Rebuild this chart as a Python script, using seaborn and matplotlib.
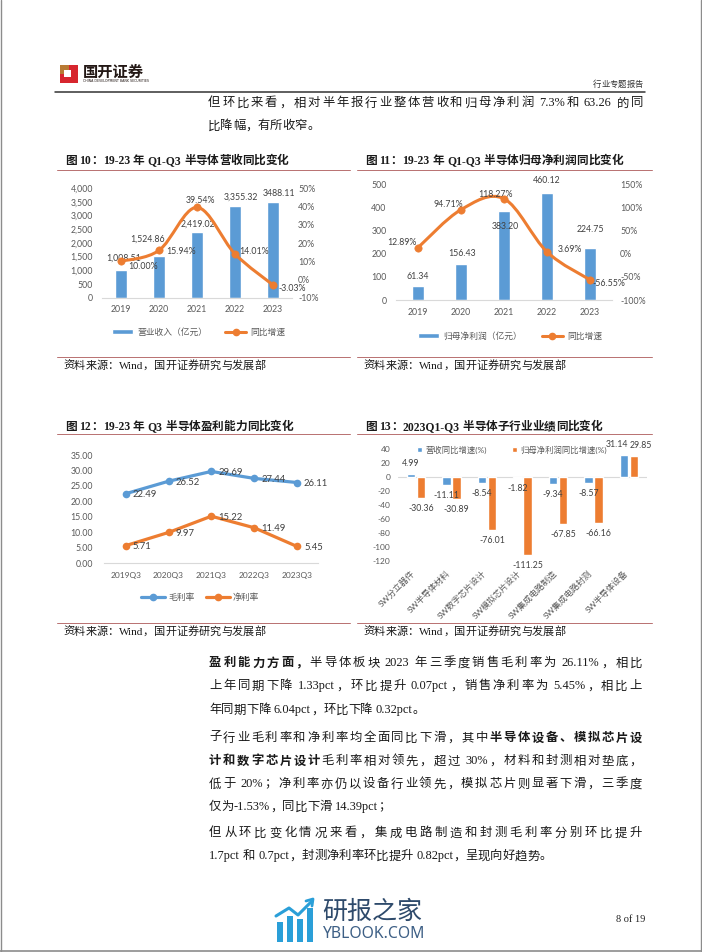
import numpy as np
import pandas as pd
import matplotlib
matplotlib.use("Agg")
import matplotlib.pyplot as plt
import seaborn as sns
from matplotlib.path import Path
from matplotlib.patches import PathPatch, Rectangle
from matplotlib.lines import Line2D

# ---------------- data ----------------
years = ['2019', '2020', '2021', '2022', '2023']
revenue = [1008.51, 1524.86, 2419.02, 3355.32, 3488.11]
revenue_labels = ['1,008.51', '1,524.86', '2,419.02', '3,355.32', '3488.11']
revenue_yoy = [10.00, 15.94, 39.54, 14.01, -3.03]

profit = [61.34, 156.43, 383.20, 460.12, 224.75]
profit_yoy = [12.89, 94.71, 118.27, 3.69, -56.55]

quarters = ['2019Q3', '2020Q3', '2021Q3', '2022Q3', '2023Q3']
gross_margin = [22.49, 26.52, 29.69, 27.44, 26.11]
net_margin = [5.71, 9.97, 15.22, 11.49, 5.45]

sub_industries = ['SW分立器件', 'SW半导体材料', 'SW数字芯片设计', 'SW模拟芯片设计',
                  'SW集成电路制造', 'SW集成电路封测', 'SW半导体设备']
sub_rev_yoy = [4.99, -11.11, -8.54, -1.82, -9.34, -8.57, 31.14]
sub_profit_yoy = [-30.36, -30.89, -76.01, -111.25, -67.85, -66.16, 29.85]

# ---------------- style ----------------
sns.set_theme(style='white')
CJK = 'Noto Sans CJK SC'
plt.rcParams['font.family'] = ['Lato', CJK]
plt.rcParams['axes.unicode_minus'] = False
SERIF = ['Liberation Serif', CJK]
SANS = ['Lato', CJK]
BLUE = '#5B9BD5'
ORANGE = '#ED7D31'
TICK = '#595959'
LAB = '#404040'
RULE = '#b87070'
TS = 6.3

W, H = 702, 952
fig = plt.figure(figsize=(W / 100, H / 100), dpi=100)
renderer = fig.canvas.get_renderer()


def fx(x):
    return x / W


def fy(y):
    return 1 - y / H


def axes_px(l, t, r, b):
    return fig.add_axes([fx(l), fy(b), (r - l) / W, (b - t) / H])


def rect_px(x0, y0, x1, y1, **kw):
    fig.add_artist(Rectangle((fx(x0), fy(y1)), (x1 - x0) / W, (y1 - y0) / H,
                             transform=fig.transFigure, **kw))


def line_px(xs, ys, **kw):
    fig.add_artist(Line2D([fx(x) for x in xs], [fy(y) for y in ys],
                          transform=fig.transFigure, **kw))


def is_cjk(ch):
    return ord(ch) >= 0x2E80


def tokenize(segs):
    toks = []
    for s, b in segs:
        buf = ''
        for ch in s:
            if is_cjk(ch) or ch == ' ':
                if buf:
                    toks.append((buf, b))
                    buf = ''
                toks.append((ch, b))
            else:
                buf += ch
        if buf:
            toks.append((buf, b))
    return toks


def text_line(x0, yc, segs, size, family=SERIF, color='#1a1a1a', x1=None):
    if isinstance(segs, str):
        segs = [(segs, False)]
    toks = tokenize(segs)
    px = size * 100 / 72
    arts, widths = [], []
    for t, b in toks:
        if t == ' ':
            arts.append(None)
            widths.append(0.25 * px)
            continue
        a = fig.text(0, fy(yc + 0.36 * px), t, fontsize=size, family=family,
                     weight='bold' if b else 'normal', color=color,
                     va='baseline', ha='left')
        arts.append(a)
        widths.append(a.get_window_extent(renderer).width)
    slots = [i for i in range(len(toks) - 1) if toks[i][0] != ' ']
    gap = 0
    if x1 is not None and slots:
        gap = (x1 - x0 - sum(widths)) / len(slots)
    x = x0
    for i, (a, w) in enumerate(zip(arts, widths)):
        if a is not None:
            a.set_x(fx(x))
        x += w + (gap if i in slots else 0)


def smooth_path(xs, ys):
    pts = np.column_stack([xs, ys]).astype(float)
    n = len(pts)
    verts = [pts[0]]
    codes = [Path.MOVETO]
    for i in range(n - 1):
        p0 = pts[i - 1] if i > 0 else pts[i]
        p1, p2 = pts[i], pts[i + 1]
        p3 = pts[i + 2] if i + 2 < n else pts[i + 1]
        verts += [p1 + (p2 - p0) / 6, p2 - (p3 - p1) / 6, p2]
        codes += [Path.CURVE4] * 3
    return Path(verts, codes)


def clean(ax, bottom=True):
    for s in ax.spines.values():
        s.set_visible(False)
    if bottom:
        ax.spines['bottom'].set_visible(True)
        ax.spines['bottom'].set_color('#d9d9d9')
        ax.spines['bottom'].set_linewidth(0.8)
    ax.set_xlabel('')
    ax.set_ylabel('')
    ax.grid(False)
    ax.set_facecolor('none')


def lab(ax, x, y, s, dx, dy, ha='center', size=TS):
    ax.annotate(s, (x, y), xytext=(dx, dy), textcoords='offset pixels',
                ha=ha, va='center', fontsize=size, color=LAB, family=SANS)


# ---------------- page decorations ----------------
line_px([0.5, 0.5], [0, 951], color='#8c8c8c', lw=1)
line_px([701, 701], [0, 951], color='#8c8c8c', lw=1)
line_px([0, 702], [950.5, 950.5], color='#8c8c8c', lw=1.2)

# logo
rect_px(60, 65, 78, 83, color='#d7262e', lw=0)
rect_px(60, 65, 69, 74, color='#b87a34', lw=0)
rect_px(64, 70, 71, 77, color='white', lw=0)
fig.text(fx(83), fy(72), '国开证券', fontsize=11, family=[CJK], weight='bold',
         color='#231815', va='center', ha='left')
fig.text(fx(83), fy(81.5), 'CHINA DEVELOPMENT BANK SECURITIES', fontsize=2.3,
         family=['DejaVu Sans'], color='#231815', va='center', ha='left')
text_line(593, 84, '行业专题报告', 6.0, color='#333333')
line_px([55, 645], [91.5, 91.5], color='#333333', lw=1.1)

# top paragraph
text_line(208, 102, '但环比来看，相对半年报行业整体营收和归母净利润 7.3%和 63.26 的同', 8.9, x1=643)
text_line(208, 125, '比降幅，有所收窄。', 8.9)

# titles & rules
text_line(65, 160, [('图 10：19-23 年 Q1-Q3 半导体营收同比变化', True)], 8.4)
text_line(365, 160, [('图 11：19-23 年 Q1-Q3 半导体归母净利润同比变化', True)], 8.4)
text_line(65, 425.7, [('图 12：19-23 年 Q3 半导体盈利能力同比变化', True)], 8.4)
text_line(365, 425.7, [('图 13：2023Q1-Q3 半导体子行业业绩同比变化', True)], 8.4)
for y in (170, 357, 434, 623):
    line_px([57, 350], [y, y], color=RULE, lw=0.7)
    line_px([357, 652], [y, y], color=RULE, lw=0.7)
for x in (63, 363):
    text_line(x, 365, '资料来源：Wind，国开证券研究与发展部', 8.0)
    text_line(x, 631, '资料来源：Wind，国开证券研究与发展部', 8.0)

# ---------------- chart 10 ----------------
ax = axes_px(102, 188.3, 292, 297.7)
df10 = pd.DataFrame({'year': years, 'revenue': revenue})
sns.barplot(data=df10, x='year', y='revenue', color=BLUE, width=0.31,
            saturation=1, ax=ax)
ax.set_ylim(0, 4000)
ax.set_yticks(np.arange(0, 4001, 500))
ax.set_yticklabels([f'{int(v):,}' for v in np.arange(0, 4001, 500)])
clean(ax)
ax.tick_params(axis='y', length=0, pad=6.5, labelsize=TS, colors=TICK)
ax.tick_params(axis='x', length=0, pad=4.9, labelsize=TS, colors=TICK)
ax2 = ax.twinx()
ax2.set_ylim(-10, 50)
ax2.set_yticks(np.arange(-10, 51, 10))
ax2.set_yticklabels([f'{int(v)}%' for v in np.arange(-10, 51, 10)])
ax2.add_patch(PathPatch(smooth_path(np.arange(5), revenue_yoy), fill=False,
                        edgecolor=ORANGE, lw=2.2, capstyle='round'))
sns.scatterplot(x=np.arange(5), y=revenue_yoy, ax=ax2, color=ORANGE, s=28,
                edgecolor=ORANGE, zorder=5, legend=False)
clean(ax2, bottom=False)
ax2.tick_params(axis='y', length=0, pad=4.3, labelsize=TS, colors=TICK)
ax.set_xlim(-0.5, 4.5)
bar_off = [(2.5, 12.4), (-11.5, 17), (1, 7), (6, 9.2), (6, 9)]
for i, (v, s) in enumerate(zip(revenue, revenue_labels)):
    lab(ax, i, v, s, *bar_off[i])
line_off = [(22.5, -5.4), (22.5, -1.3), (3.8, 7.2), (19, 2.3), (19, -4)]
for i, v in enumerate(revenue_yoy):
    lab(ax2, i, v, f'{v:.2f}%', *line_off[i])
fig.legend([Rectangle((0, 0), 1, 1, fc=BLUE),
            Line2D([], [], color=ORANGE, lw=2.2, marker='o', ms=4.5)],
           ['营业收入（亿元）', '同比增速'], loc='center',
           bbox_to_anchor=(fx(199), fy(332)), ncol=2, frameon=False,
           fontsize=TS, handlelength=2.4, handleheight=0.6,
           handletextpad=0.5, columnspacing=2.0, labelcolor=TICK)

# ---------------- chart 11 ----------------
ax = axes_px(396.5, 184, 611.5, 300)
df11 = pd.DataFrame({'year': years, 'profit': profit})
sns.barplot(data=df11, x='year', y='profit', color=BLUE, width=0.30,
            saturation=1, ax=ax)
ax.set_ylim(0, 500)
ax.set_yticks(np.arange(0, 501, 100))
clean(ax)
ax.tick_params(axis='y', length=0, pad=7.2, labelsize=TS, colors=TICK)
ax.tick_params(axis='x', length=0, pad=6.1, labelsize=TS, colors=TICK)
ax2 = ax.twinx()
ax2.set_ylim(-100, 150)
ax2.set_yticks(np.arange(-100, 151, 50))
ax2.set_yticklabels([f'{int(v)}%' for v in np.arange(-100, 151, 50)])
ax2.add_patch(PathPatch(smooth_path(np.arange(5), profit_yoy), fill=False,
                        edgecolor=ORANGE, lw=2.2, capstyle='round'))
sns.scatterplot(x=np.arange(5), y=profit_yoy, ax=ax2, color=ORANGE, s=28,
                edgecolor=ORANGE, zorder=5, legend=False)
clean(ax2, bottom=False)
ax2.tick_params(axis='y', length=0, pad=6.1, labelsize=TS, colors=TICK)
ax.set_xlim(-0.5, 4.5)
bar_off = [(0, 9), (0.7, 10.4), (1, -15), (0, 12.3), (0, 18.6)]
for i, v in enumerate(profit):
    lab(ax, i, v, f'{v:.2f}', *bar_off[i])
line_off = [(-16.3, 5), (-12.7, 4.7), (-9, 4.7), (23, 2), (19, -4)]
for i, v in enumerate(profit_yoy):
    lab(ax2, i, v, f'{v:.2f}%', *line_off[i])
fig.legend([Rectangle((0, 0), 1, 1, fc=BLUE),
            Line2D([], [], color=ORANGE, lw=2.2, marker='o', ms=4.5)],
           ['归母净利润（亿元）', '同比增速'], loc='center',
           bbox_to_anchor=(fx(510), fy(336)), ncol=2, frameon=False,
           fontsize=TS, handlelength=2.4, handleheight=0.6,
           handletextpad=0.5, columnspacing=2.3, labelcolor=TICK)

# ---------------- chart 12 ----------------
ax = axes_px(104.3, 455, 318.4, 563.3)
df12 = pd.DataFrame({'quarter': quarters * 2,
                     'value': gross_margin + net_margin,
                     'series': ['毛利率'] * 5 + ['净利率'] * 5})
sns.lineplot(data=df12, x='quarter', y='value', hue='series',
             palette=[BLUE, ORANGE], marker='o', markersize=5.5,
             markeredgewidth=0, linewidth=2.3, sort=False, legend=False, ax=ax)
ax.set_ylim(0, 35)
ax.set_yticks(np.arange(0, 36, 5))
ax.set_yticklabels([f'{v:.2f}' for v in np.arange(0, 36, 5)])
ax.set_xlim(-0.5, 4.5)
clean(ax)
ax.tick_params(axis='y', length=0, pad=8, labelsize=TS, colors=TICK)
ax.tick_params(axis='x', length=0, pad=6.5, labelsize=TS - 0.3, colors=TICK)
for series in (gross_margin, net_margin):
    for i, v in enumerate(series):
        lab(ax, i, v, f'{v:.2f}', 7, -1, ha='left', size=6.8)
fig.legend([Line2D([], [], color=BLUE, lw=2.3, marker='o', ms=4.5),
            Line2D([], [], color=ORANGE, lw=2.3, marker='o', ms=4.5)],
           ['毛利率', '净利率'], loc='center',
           bbox_to_anchor=(fx(200), fy(597.7)), ncol=2, frameon=False,
           fontsize=TS, handlelength=2.8, handletextpad=0.3,
           columnspacing=1.3, labelcolor=TICK)

# ---------------- chart 13 ----------------
ax = axes_px(398.25, 449.3, 646.75, 560.7)
df13 = pd.DataFrame({'industry': sub_industries * 2,
                     'value': sub_rev_yoy + sub_profit_yoy,
                     'series': ['营收同比增速(%)'] * 7 + ['归母净利润同比增速(%)'] * 7})
sns.barplot(data=df13, x='industry', y='value', hue='series',
            palette=[BLUE, ORANGE], width=0.563, gap=0.17, saturation=1,
            legend=False, ax=ax)
ax.set_ylim(-120, 40)
ax.set_yticks(np.arange(-120, 41, 20))
ax.set_xlim(-0.5, 6.5)
clean(ax, bottom=False)
ax.axhline(0, color='#d9d9d9', lw=0.8, zorder=0)
ax.tick_params(axis='y', length=0, pad=5.8, labelsize=TS - 0.3, colors=TICK)
ax.tick_params(axis='x', length=0, pad=5.5, labelsize=TS - 0.2, colors=TICK,
               labelrotation=45)
for t in ax.get_xticklabels():
    t.set_ha('right')
extra_dx = {(0, 6): -7, (1, 6): 7}
for k, cont in enumerate(ax.containers):
    for i, bar in enumerate(cont):
        val = (sub_rev_yoy, sub_profit_yoy)[k][i]
        xc = bar.get_x() + bar.get_width() / 2
        dy = 10.5 if val >= 0 else -10.5
        lab(ax, xc, val, f'{val:.2f}', extra_dx.get((k, i), 0), dy, size=TS)
fig.legend([Rectangle((0, 0), 1, 1, fc=BLUE), Rectangle((0, 0), 1, 1, fc=ORANGE)],
           ['营收同比增速(%)', '归母净利润同比增速(%)'], loc='center',
           bbox_to_anchor=(fx(511.7), fy(449.3)), ncol=2, frameon=False,
           fontsize=TS - 0.3, handlelength=0.6, handleheight=0.6,
           handletextpad=0.4, columnspacing=3.0, labelcolor=TICK)

# ---------------- body text ----------------
X0, X1, BS = 209, 642, 8.9
text_line(X0, 662, [('盈利能力方面，', True), ('半导体板块 2023 年三季度销售毛利率为 26.11%，相比', False)], BS, x1=X1)
text_line(X0, 685, '上年同期下降 1.33pct，环比提升 0.07pct，销售净利率为 5.45%，相比上', BS, x1=X1)
text_line(X0, 709, '年同期下降 6.04pct，环比下降 0.32pct。', BS)
text_line(X0, 737, [('子行业毛利率和净利率均全面同比下滑，其中', False), ('半导体设备、模拟芯片设', True)], BS, x1=X1)
text_line(X0, 760, [('计和数字芯片设计', True), ('毛利率相对领先，超过 30%，材料和封测相对垫底，', False)], BS, x1=X1)
text_line(X0, 783, '低于 20%；净利率亦仍以设备行业领先，模拟芯片则显著下滑，三季度', BS, x1=X1)
text_line(X0, 806, '仅为-1.53%，同比下滑 14.39pct；', BS)
text_line(X0, 832, '但从环比变化情况来看，集成电路制造和封测毛利率分别环比提升', BS, x1=X1)
text_line(X0, 855, '1.7pct 和 0.7pct，封测净利率环比提升 0.82pct，呈现向好趋势。', BS)

# ---------------- footer ----------------
ICON = '#2a9fd8'
for x0, top in ((277, 922), (287, 916), (297, 919), (307, 908)):
    rect_px(x0, top, x0 + 6, 942, color=ICON, lw=0)
line_px([276, 289, 298, 311], [916, 908, 915, 902], color=ICON, lw=2.2,
        solid_capstyle='round')
line_px([306, 313, 312], [901, 899, 906], color=ICON, lw=2.0)
fig.text(fx(322), fy(912), '研报之家', fontsize=18, family=[CJK],
         color='#2e4a6b', va='center', ha='left')
fig.text(fx(323), fy(934.5), 'YBLOOK.COM', fontsize=11.3, family=['Noto Sans'],
         color='#3d5f85', va='center', ha='left')
fig.text(fx(616), fy(919), '8 of 19', fontsize=7.5, family=['Liberation Serif'],
         color='#222222', va='center', ha='left')

fig.savefig('out.png', dpi=100, facecolor='white')
